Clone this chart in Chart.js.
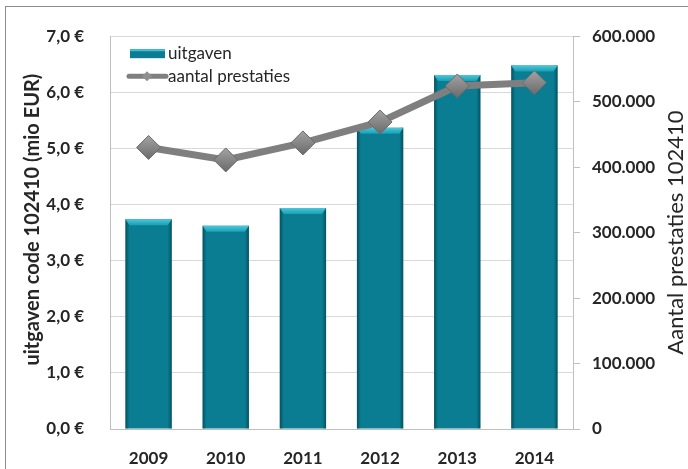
<!DOCTYPE html>
<html lang="nl">
<head>
  <meta charset="UTF-8" />
  <title>Uitgaven en prestaties 102410</title>
  <script src="https://cdn.jsdelivr.net/npm/chart.js"></script>
  <style>
    html, body { margin: 0; padding: 0; background: #fff; overflow: hidden; }
    #wrap { position: relative; width: 688px; height: 469px; }
    #frame { position: absolute; left: 5px; top: 6px; width: 700px; height: 480px;
             border-top: 1px solid #8c8c8c; border-left: 1px solid #8c8c8c; pointer-events: none; }
  </style>
</head>
<body>
  <div id="wrap">
    <canvas id="chart" width="688" height="469"></canvas>
    <div id="frame"></div>
  </div>

  <script>
    const jaren = ['2009', '2010', '2011', '2012', '2013', '2014'];
    const uitgaven = [3.74, 3.62, 3.94, 5.37, 6.31, 6.48];          // mio EUR
    const prestaties = [430000, 411000, 437000, 469000, 524000, 529000];
    const euroTicks = [0, 1, 2, 3, 4, 5, 6, 7];
    const linksTitel = 'uitgaven code 102410 (mio EUR)';
    const rechtsTitel = 'Aantal prestaties 102410';

    const TEAL = '#0a7d92';
    const GREY = '#7f7f7f';
    const TXT = '#262626';

    const fmtEuro = v => v.toFixed(1).replace('.', ',') + ' €';
    const fmtAantal = v => v === 0 ? '0' : Math.round(v).toLocaleString('de-DE');

    // bevel on the bars: light cap on top, darker sides
    const barBevel = {
      id: 'barBevel',
      afterDatasetDraw(chart, args) {
        if (args.meta.type !== 'bar') return;
        const ctx = chart.ctx;
        ctx.save();
        args.meta.data.forEach(bar => {
          const l = bar.x - bar.width / 2, r = bar.x + bar.width / 2;
          const t = bar.y, b = bar.base;
          let g = ctx.createLinearGradient(l, 0, l + 4, 0);
          g.addColorStop(0, 'rgba(0,45,55,0.55)');
          g.addColorStop(1, 'rgba(0,45,55,0)');
          ctx.fillStyle = g;
          ctx.fillRect(l, t, 4, b - t);
          g = ctx.createLinearGradient(r - 4, 0, r, 0);
          g.addColorStop(0, 'rgba(0,45,55,0)');
          g.addColorStop(1, 'rgba(0,45,55,0.55)');
          ctx.fillStyle = g;
          ctx.fillRect(r - 4, t, 4, b - t);
          g = ctx.createLinearGradient(0, t, 0, t + 6);
          g.addColorStop(0, '#4cc8da');
          g.addColorStop(1, '#1a9fb4');
          ctx.fillStyle = g;
          ctx.beginPath();
          ctx.moveTo(l, t); ctx.lineTo(r, t); ctx.lineTo(r - 4, t + 6); ctx.lineTo(l + 4, t + 6);
          ctx.closePath();
          ctx.fill();
        });
        ctx.restore();
      }
    };

    // legend inside the plot (top left) and both axis titles, read bottom-up
    const extras = {
      id: 'extras',
      afterDraw(chart) {
        const ctx = chart.ctx, a = chart.chartArea;
        const ds = chart.data.datasets;
        const x0 = a.left + 20, y1 = a.top + 17, y2 = a.top + 40;
        const midY = (a.top + a.bottom) / 2;
        ctx.save();
        ctx.fillStyle = TEAL;
        ctx.fillRect(x0, y1 - 4, 35, 9);
        ctx.fillStyle = '#3fc0d3';
        ctx.fillRect(x0, y1 - 4, 35, 2);
        ctx.strokeStyle = GREY;
        ctx.lineWidth = 5;
        ctx.lineCap = 'round';
        ctx.beginPath();
        ctx.moveTo(x0 - 1, y2); ctx.lineTo(x0 + 36, y2);
        ctx.stroke();
        ctx.fillStyle = '#8f8f8f';
        ctx.beginPath();
        ctx.moveTo(x0 + 17, y2 - 5); ctx.lineTo(x0 + 22, y2);
        ctx.lineTo(x0 + 17, y2 + 5); ctx.lineTo(x0 + 12, y2);
        ctx.closePath();
        ctx.fill();
        ctx.font = '17px Lato';
        ctx.fillStyle = TXT;
        ctx.textBaseline = 'middle';
        ctx.fillText(ds[0].label, x0 + 38, y1);
        ctx.fillText(ds[1].label, x0 + 38, y2);
        ctx.textAlign = 'center';

        ctx.save();
        ctx.translate(chart.scales.y.left + 33, midY - 13);
        ctx.rotate(-Math.PI / 2);
        ctx.font = 'bold 20px Lato';
        ctx.fillText(linksTitel, 0, 0);
        ctx.restore();

        ctx.translate(chart.scales.y1.right - 12, midY);
        ctx.rotate(-Math.PI / 2);
        ctx.font = '22px Lato';
        ctx.fillText(rechtsTitel, 0, 0);
        ctx.restore();
      }
    };

    // shaded diamonds: lighter on top, darker below
    const diamondFill = c => {
      const s = c.chart.scales.y1;
      if (!s || typeof c.raw !== 'number') return '#8c8c8c';
      const y = s.getPixelForValue(c.raw);
      if (!isFinite(y)) return '#8c8c8c';
      const g = c.chart.ctx.createLinearGradient(0, y - 12, 0, y + 12);
      g.addColorStop(0, '#a3a3a3');
      g.addColorStop(1, '#6a6a6a');
      return g;
    };

    const tickFont = { family: 'Lato', size: 17, weight: 'bold' };

    new Chart(document.getElementById('chart'), {
      data: {
        labels: jaren,
        datasets: [
          {
            type: 'bar', label: 'uitgaven', data: uitgaven, yAxisID: 'y',
            backgroundColor: TEAL, barPercentage: 0.6, categoryPercentage: 1, order: 2
          },
          {
            type: 'line', label: 'aantal prestaties', data: prestaties, yAxisID: 'y1',
            borderColor: GREY, borderWidth: 7, pointStyle: 'rectRot', pointRadius: 12,
            pointBackgroundColor: diamondFill, pointBorderColor: '#6b6b6b', pointBorderWidth: 1,
            order: 1
          }
        ]
      },
      options: {
        responsive: false,
        animation: false,
        layout: { padding: { top: 25, left: 0, right: 0, bottom: 0 } },
        plugins: { legend: { display: false }, tooltip: { enabled: false } },
        scales: {
          x: {
            grid: { display: false },
            border: { display: true, color: '#bfbfbf' },
            ticks: { color: TXT, padding: 11, font: tickFont },
            afterFit: s => { s.height = 40; }
          },
          y: {
            position: 'left', min: 0, max: 7,
            afterBuildTicks: s => { s.ticks = euroTicks.map(v => ({ value: v })); },
            grid: { color: '#d9d9d9', drawTicks: false },
            border: { color: '#bfbfbf' },
            ticks: { color: TXT, padding: 26, callback: fmtEuro, font: tickFont },
            afterFit: s => { s.width = 110; }
          },
          y1: {
            position: 'right', min: 0, max: 600000,
            ticks: { stepSize: 100000, color: TXT, padding: 12, callback: fmtAantal, font: tickFont },
            grid: { drawOnChartArea: false, tickLength: 7, color: '#bfbfbf' },
            border: { color: '#bfbfbf' },
            afterFit: s => { s.width = 115; }
          }
        }
      },
      plugins: [barBevel, extras]
    });
  </script>
</body>
</html>
